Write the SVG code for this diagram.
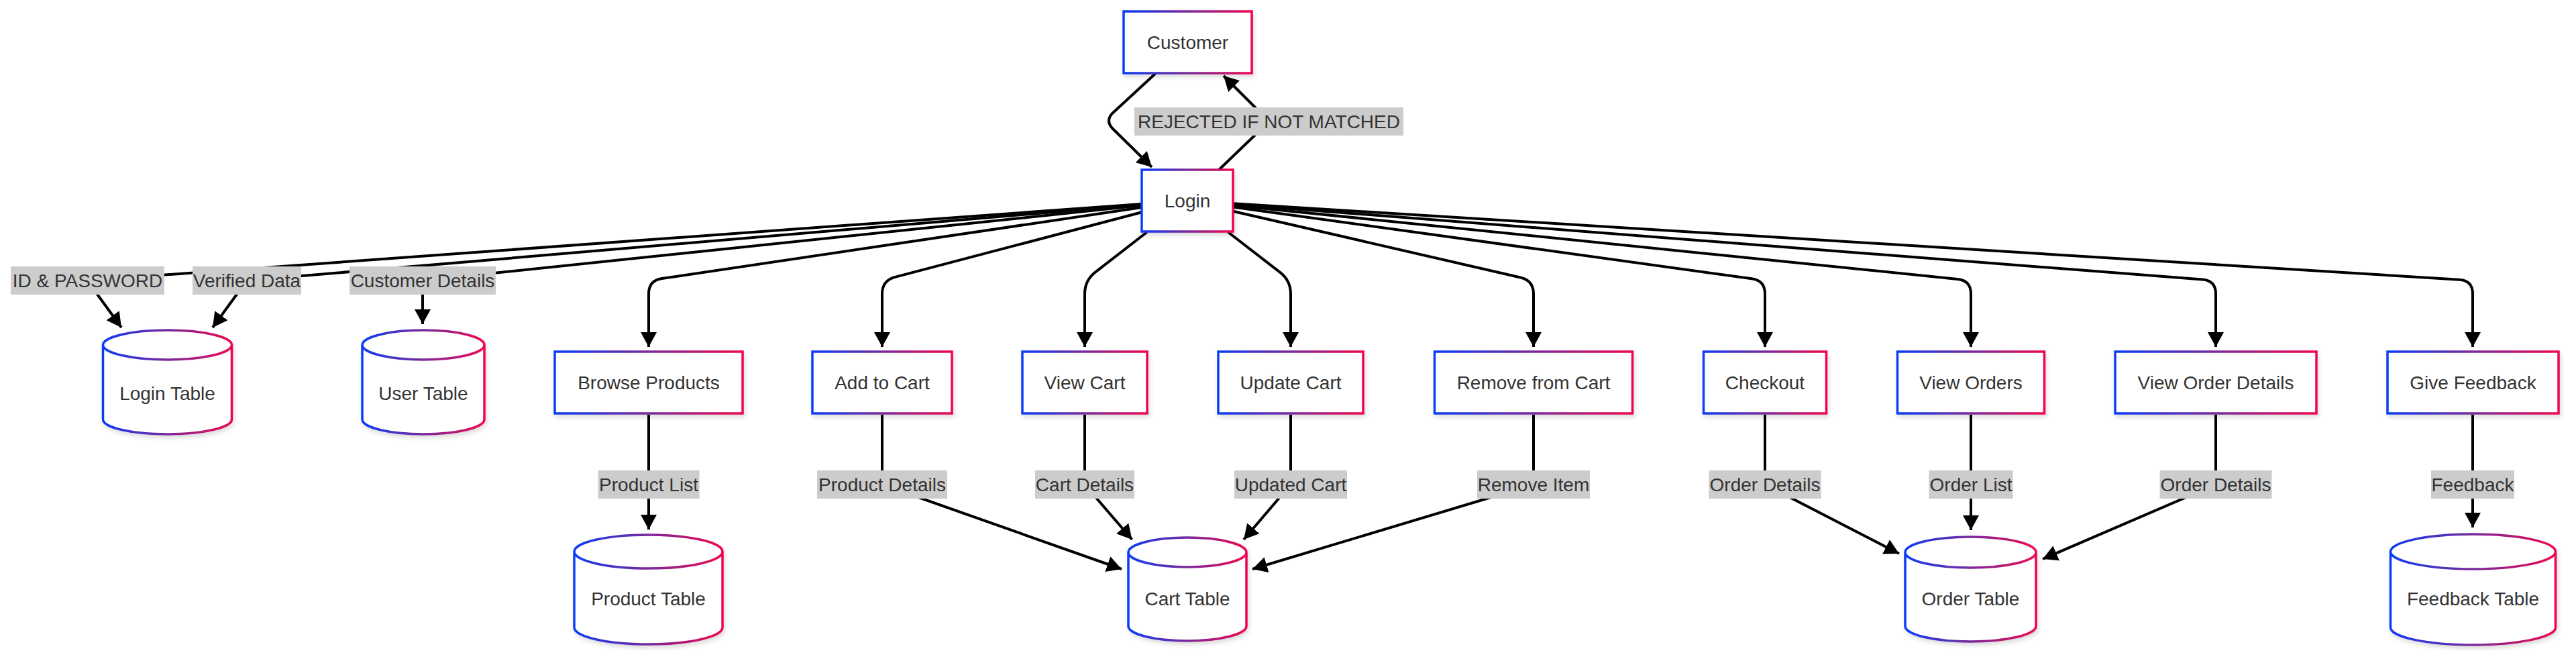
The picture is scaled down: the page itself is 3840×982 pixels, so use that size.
<svg xmlns="http://www.w3.org/2000/svg" width="3840" height="982" viewBox="0 0 3840 982">
<defs>
<linearGradient id="grad" x1="0" y1="0" x2="1" y2="0">
<stop offset="0" stop-color="#0a3cf5"/>
<stop offset="0.5" stop-color="#7a2a9c"/>
<stop offset="1" stop-color="#f0064e"/>
</linearGradient>
<filter id="shadow" x="-10%" y="-10%" width="125%" height="130%">
<feDropShadow dx="2" dy="4" stdDeviation="3" flood-color="#000" flood-opacity="0.14"/>
</filter>
<marker id="arrow" markerUnits="userSpaceOnUse" viewBox="0 0 22 24" refX="22" refY="12" markerWidth="22" markerHeight="24" orient="auto">
<path d="M0,0 L22,12 L0,24 z" fill="#000"/>
</marker>
<style>
.node rect, .node path { fill: #ffffff; stroke: url(#grad); stroke-width: 3.5; filter: url(#shadow); }
.node text { font-family: "Liberation Sans", Arial, sans-serif; font-size: 28px; fill: #333333; text-anchor: middle; }
.edge { fill: none; stroke: #000000; stroke-width: 4; stroke-linejoin: round; }
.arr { marker-end: url(#arrow); }
.elabel rect { fill: #cccccc; }
.elabel text { font-family: "Liberation Sans", Arial, sans-serif; font-size: 28px; fill: #333333; text-anchor: middle; }
</style>
</defs>
<rect x="0" y="0" width="3840" height="982" fill="#ffffff"/>

<g id="connectors">
<!-- Customer <-> Login -->
<path class="edge arr" d="M1722,110 L1658,169 Q1648,180 1658,191 L1717,249"/>
<path class="edge arr" d="M1817,253 L1892,181 L1824,113"/>
<!-- Login to data (left) -->
<path class="edge arr" d="M1702,303.9 L130,418 L181,488"/>
<path class="edge arr" d="M1702,304.8 L368,418 L317,488"/>
<path class="edge arr" d="M1702,306.1 L630,418 L630,483"/>
<!-- Login to processes -->
<path class="edge arr" d="M1702,309 L986.8,415.1 Q967,418 967,438 L967,517"/>
<path class="edge arr" d="M1702,316.3 L1334.3,412.9 Q1315,418 1315,438 L1315,517"/>
<path class="edge arr" d="M1709.6,346 L1632.7,405.6 Q1617,418 1617,438 L1617,517"/>
<path class="edge arr" d="M1830.8,346 L1908.2,405.8 Q1924,418 1924,438 L1924,517"/>
<path class="edge arr" d="M1838,314.7 L2266.5,413.5 Q2286,418 2286,438 L2286,517"/>
<path class="edge arr" d="M1838,308.4 L2611.2,415.3 Q2631,418 2631,438 L2631,517"/>
<path class="edge arr" d="M1838,305.9 L2918.1,416 Q2938,418 2938,438 L2938,517"/>
<path class="edge arr" d="M1838,304.3 L3283.1,416.5 Q3303,418 3303,438 L3303,517"/>
<path class="edge arr" d="M1838,303.2 L3666,416.8 Q3686,418 3686,438 L3686,517"/>
<!-- processes to tables -->
<path class="edge arr" d="M967,618 L967,722 L967,789"/>
<path class="edge arr" d="M1315,618 L1315,722 L1672,848"/>
<path class="edge arr" d="M1617,618 L1617,722 L1687.5,804"/>
<path class="edge arr" d="M1924,618 L1924,722 L1854,804"/>
<path class="edge arr" d="M2286,618 L2286,722 L1867,848"/>
<path class="edge arr" d="M2631,618 L2631,722 L2831,825"/>
<path class="edge arr" d="M2938,618 L2938,722 L2938,790"/>
<path class="edge arr" d="M3303,618 L3303,722 L3045,833"/>
<path class="edge arr" d="M3686,618 L3686,722 L3686,786"/>
</g>

<g id="edge-labels">
<g class="elabel" id="lbl-rejected"><rect x="1691" y="160" width="401" height="42"/><text x="1891.5" y="190.5">REJECTED IF NOT MATCHED</text></g>
<g class="elabel" id="lbl-idpass"><rect x="16" y="397" width="229" height="42"/><text x="130.5" y="427.5">ID &amp; PASSWORD</text></g>
<g class="elabel" id="lbl-verified"><rect x="287" y="397" width="162" height="42"/><text x="368" y="427.5">Verified Data</text></g>
<g class="elabel" id="lbl-custdetails"><rect x="521" y="397" width="218" height="42"/><text x="630" y="427.5">Customer Details</text></g>
<g class="elabel" id="lbl-productlist"><rect x="891.5" y="701" width="151" height="42"/><text x="967" y="731.5">Product List</text></g>
<g class="elabel" id="lbl-productdetails"><rect x="1218" y="701" width="194" height="42"/><text x="1315" y="731.5">Product Details</text></g>
<g class="elabel" id="lbl-cartdetails"><rect x="1543" y="701" width="148" height="42"/><text x="1617" y="731.5">Cart Details</text></g>
<g class="elabel" id="lbl-updatedcart"><rect x="1840" y="701" width="168" height="42"/><text x="1924" y="731.5">Updated Cart</text></g>
<g class="elabel" id="lbl-removeitem"><rect x="2202" y="701" width="168" height="42"/><text x="2286" y="731.5">Remove Item</text></g>
<g class="elabel" id="lbl-orderdetails1"><rect x="2547.5" y="701" width="167" height="42"/><text x="2631" y="731.5">Order Details</text></g>
<g class="elabel" id="lbl-orderlist"><rect x="2875.5" y="701" width="125" height="42"/><text x="2938" y="731.5">Order List</text></g>
<g class="elabel" id="lbl-orderdetails2"><rect x="3219.5" y="701" width="167" height="42"/><text x="3303" y="731.5">Order Details</text></g>
<g class="elabel" id="lbl-feedback"><rect x="3624" y="701" width="124" height="42"/><text x="3686" y="731.5">Feedback</text></g>
</g>

<g id="nodes">
<g class="node" id="customer"><rect x="1675" y="17" width="191" height="92"/><text x="1770.5" y="72.5">Customer</text></g>
<g class="node" id="login"><rect x="1702" y="253" width="136" height="92"/><text x="1770" y="308.5">Login</text></g>

<g class="node" id="browse"><rect x="827" y="524" width="280" height="92"/><text x="967" y="579.5">Browse Products</text></g>
<g class="node" id="addcart"><rect x="1211" y="524" width="208" height="92"/><text x="1315" y="579.5">Add to Cart</text></g>
<g class="node" id="viewcart"><rect x="1524" y="524" width="186" height="92"/><text x="1617" y="579.5">View Cart</text></g>
<g class="node" id="updatecart"><rect x="1816" y="524" width="216" height="92"/><text x="1924" y="579.5">Update Cart</text></g>
<g class="node" id="removecart"><rect x="2138.5" y="524" width="295" height="92"/><text x="2286" y="579.5">Remove from Cart</text></g>
<g class="node" id="checkout"><rect x="2539.5" y="524" width="183" height="92"/><text x="2631" y="579.5">Checkout</text></g>
<g class="node" id="vieworders"><rect x="2828.5" y="524" width="219" height="92"/><text x="2938" y="579.5">View Orders</text></g>
<g class="node" id="vieworderdetails"><rect x="3153" y="524" width="300" height="92"/><text x="3303" y="579.5">View Order Details</text></g>
<g class="node" id="givefeedback"><rect x="3559" y="524" width="255" height="92"/><text x="3686.5" y="579.5">Give Feedback</text></g>

<g class="node" id="logintable"><path d="M153.5,514 a96,22 0 0 0 192,0 a96,22 0 0 0 -192,0 l0,111 a96,22 0 0 0 192,0 l0,-111"/><text x="249.5" y="596">Login Table</text></g>
<g class="node" id="usertable"><path d="M540,514 a91,22 0 0 0 182,0 a91,22 0 0 0 -182,0 l0,111 a91,22 0 0 0 182,0 l0,-111"/><text x="631" y="596">User Table</text></g>
<g class="node" id="producttable"><path d="M856,822 a110.5,25 0 0 0 221,0 a110.5,25 0 0 0 -221,0 l0,113 a110.5,25 0 0 0 221,0 l0,-113"/><text x="966.5" y="902">Product Table</text></g>
<g class="node" id="carttable"><path d="M1682,823 a88,22 0 0 0 176,0 a88,22 0 0 0 -176,0 l0,110 a88,22 0 0 0 176,0 l0,-110"/><text x="1770" y="902">Cart Table</text></g>
<g class="node" id="ordertable"><path d="M2840,823 a97.5,23 0 0 0 195,0 a97.5,23 0 0 0 -195,0 l0,110 a97.5,23 0 0 0 195,0 l0,-110"/><text x="2937.5" y="902">Order Table</text></g>
<g class="node" id="feedbacktable"><path d="M3563.5,822 a123,26 0 0 0 246,0 a123,26 0 0 0 -246,0 l0,113 a123,26 0 0 0 246,0 l0,-113"/><text x="3686.5" y="902">Feedback Table</text></g>
</g>
</svg>
